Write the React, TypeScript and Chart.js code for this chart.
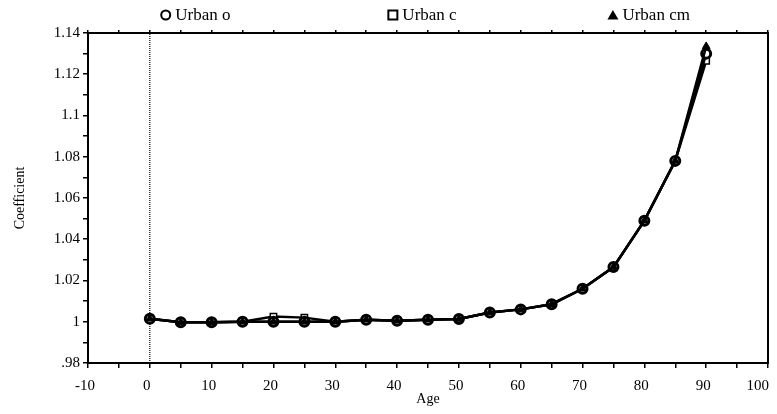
import React, { useEffect, useRef } from "react";
import { Chart, registerables } from "chart.js";

Chart.register(...registerables);

const ages = [0, 5, 10, 15, 20, 25, 30, 35, 40, 45, 50, 55, 60, 65, 70, 75, 80, 85, 90];
const urbanO = [1.0015, 0.9998, 0.9998, 1.0, 1.0, 1.0, 1.0, 1.001, 1.0005, 1.001, 1.0013, 1.0045, 1.006, 1.0085, 1.016, 1.0265, 1.049, 1.078, 1.130];
const urbanC = [1.0015, 0.9998, 0.9998, 1.0, 1.0025, 1.002, 1.0, 1.001, 1.0005, 1.001, 1.0013, 1.0045, 1.006, 1.0085, 1.016, 1.0265, 1.049, 1.078, 1.1265];
const urbanCm = [1.0015, 0.9998, 0.9998, 1.0, 1.0, 1.0, 1.0, 1.001, 1.0005, 1.001, 1.0013, 1.0045, 1.006, 1.0085, 1.016, 1.0265, 1.049, 1.078, 1.1335];
const seriesNames = ["Urban o", "Urban c", "Urban cm"];
const xTickLabels = ["-10", "0", "10", "20", "30", "40", "50", "60", "70", "80", "90", "100"];
const yTickLabels = [".98", "1", "1.02", "1.04", "1.06", "1.08", "1.1", "1.12", "1.14"];

const FONT = "'Liberation Serif', 'Times New Roman', serif";

const legendPlugin = {
  id: "spreadLegend",
  afterDraw(chart: any) {
    const { ctx, chartArea } = chart;
    const w = chartArea.right - chartArea.left;
    const n = seriesNames.length;
    ctx.save();
    ctx.font = `17px ${FONT}`;
    ctx.textBaseline = "middle";
    ctx.fillStyle = "#000";
    ctx.strokeStyle = "#000";
    ctx.lineWidth = 2;
    const y = 7;
    for (let i = 0; i < n; i++) {
      const label = seriesNames[i];
      const tw = ctx.measureText(label).width;
      const markerW = 11;
      const total = markerW + 4 + tw;
      const cx = chartArea.left + ((i + 0.5) * w) / n - 6;
      const x0 = cx - total / 2;
      const mx = x0 + markerW / 2;
      ctx.beginPath();
      if (i === 0) {
        ctx.arc(mx, y, 4.5, 0, Math.PI * 2);
        ctx.stroke();
      } else if (i === 1) {
        ctx.strokeRect(mx - 4.5, y - 4.5, 9, 9);
      } else {
        ctx.moveTo(mx, y - 5);
        ctx.lineTo(mx + 5.5, y + 4.5);
        ctx.lineTo(mx - 5.5, y + 4.5);
        ctx.closePath();
        ctx.fill();
      }
      ctx.textAlign = "left";
      ctx.fillText(label, x0 + markerW + 4, y + 1);
    }
    ctx.restore();
  },
};

// keep the last x tick label inside the visible area (right-aligned to the axis end)
const lastLabelPlugin = {
  id: "lastLabel",
  beforeDraw(chart: any) {
    const s = chart.scales.x;
    if (!s || !s.getLabelItems) return;
    const items = s.getLabelItems(chart.chartArea);
    for (const it of items) {
      if (it.label === xTickLabels[xTickLabels.length - 1]) {
        it.options.textAlign = "right";
        it.options.translation = [s.right + 1, it.options.translation[1]];
      }
    }
  },
};

export default function App() {
  const ref = useRef<HTMLCanvasElement | null>(null);

  useEffect(() => {
    if (!ref.current) return;
    const mk = (vals: number[]) => ages.map((a, i) => ({ x: a, y: vals[i] }));
    const fiveSteps = (axis: any) => {
      const t = [];
      for (let v = -10; v <= 100; v += 5) t.push({ value: v });
      axis.ticks = t;
    };
    const hundredthSteps = (axis: any) => {
      const t = [];
      for (let k = 0; k <= 16; k++) t.push({ value: 0.98 + k * 0.01 });
      axis.ticks = t;
    };
    const chart = new Chart(ref.current, {
      type: "line",
      data: {
        datasets: [
          {
            label: seriesNames[0],
            data: mk(urbanO),
            order: 1,
            borderColor: "#000",
            borderWidth: 2.5,
            pointStyle: "circle",
            pointRadius: 4.5,
            pointBorderWidth: 3,
            pointBorderColor: "#000",
            pointBackgroundColor: "#fff",
            tension: 0,
          },
          {
            label: seriesNames[1],
            data: mk(urbanC),
            order: 2,
            borderColor: "#000",
            borderWidth: 2.5,
            pointStyle: "rect",
            pointRadius: 4.5,
            pointBorderWidth: 1.5,
            pointBorderColor: "#000",
            pointBackgroundColor: "#fff",
            tension: 0,
          },
          {
            label: seriesNames[2],
            data: mk(urbanCm),
            order: 0,
            borderColor: "#000",
            borderWidth: 2.5,
            pointStyle: "triangle",
            pointRadius: 4.5,
            pointBorderWidth: 1,
            pointBorderColor: "#000",
            pointBackgroundColor: "#000",
            tension: 0,
          },
          {
            label: "zero",
            data: [
              { x: 0, y: 0.98 },
              { x: 0, y: 1.14 },
            ],
            order: 3,
            borderColor: "#000",
            borderWidth: 1.2,
            borderDash: [1, 1],
            pointRadius: 0,
          },
        ],
      },
      options: {
        animation: false,
        responsive: true,
        maintainAspectRatio: false,
        layout: { padding: { top: 25, left: 0, right: 0, bottom: 0 } },
        plugins: {
          legend: { display: false },
          tooltip: { enabled: false },
        },
        scales: {
          x: {
            type: "linear",
            position: "bottom",
            min: -10,
            max: 100,
            afterBuildTicks: fiveSteps,
            afterFit: (axis: any) => {
              axis.height = 43;
              axis.paddingLeft = 0;
              axis.paddingRight = 0;
            },
            ticks: {
              autoSkip: false,
              maxRotation: 0,
              padding: 9,
              labelOffset: -3,
              color: "#000",
              font: { family: FONT, size: 15 },
              callback: (v: any) => {
                const idx = xTickLabels.indexOf(String(v));
                return Number(v) % 10 === 0 && idx >= 0 ? xTickLabels[idx] : "";
              },
            },
            grid: { drawOnChartArea: false, drawTicks: true, tickLength: 5, color: "#000", lineWidth: 1.5 },
            border: { display: true, color: "#000", width: 2 },
            title: {
              display: true,
              text: "Age",
              color: "#000",
              font: { family: FONT, size: 14, lineHeight: 0.9 },
              padding: { top: 0, bottom: 0 },
            },
          },
          x2: {
            type: "linear",
            position: "top",
            min: -10,
            max: 100,
            afterBuildTicks: fiveSteps,
            afterFit: (axis: any) => {
              axis.height = 0;
              axis.paddingLeft = 0;
              axis.paddingRight = 0;
            },
            ticks: { display: false },
            grid: { drawOnChartArea: false, drawTicks: true, tickLength: 3, color: "#000", lineWidth: 1.5 },
            border: { display: true, color: "#000", width: 2 },
          },
          y: {
            type: "linear",
            position: "left",
            min: 0.98,
            max: 1.14,
            afterBuildTicks: hundredthSteps,
            afterFit: (axis: any) => {
              axis.width = 80;
            },
            ticks: {
              autoSkip: false,
              padding: 3,
              color: "#000",
              font: { family: FONT, size: 15 },
              callback: (v: any) => {
                const k = Math.round((Number(v) - 0.98) / 0.01);
                return k % 2 === 0 ? yTickLabels[k / 2] : "";
              },
            },
            grid: { drawOnChartArea: false, drawTicks: true, tickLength: 5, color: "#000", lineWidth: 1.5 },
            border: { display: true, color: "#000", width: 2 },
            title: {
              display: true,
              text: "Coefficient",
              color: "#000",
              font: { family: FONT, size: 14 },
              padding: { top: 4, bottom: 0 },
            },
          },
          y2: {
            type: "linear",
            position: "right",
            min: 0.98,
            max: 1.14,
            afterBuildTicks: hundredthSteps,
            afterFit: (axis: any) => {
              axis.width = 9;
            },
            ticks: { display: false },
            grid: { drawOnChartArea: false, drawTicks: false },
            border: { display: true, color: "#000", width: 2 },
          },
        },
      },
      plugins: [legendPlugin, lastLabelPlugin],
    } as any);
    return () => chart.destroy();
  }, []);

  return (
    <div style={{ width: 769, height: 398, marginRight: -8, position: "relative" }}>
      <canvas ref={ref} />
    </div>
  );
}
